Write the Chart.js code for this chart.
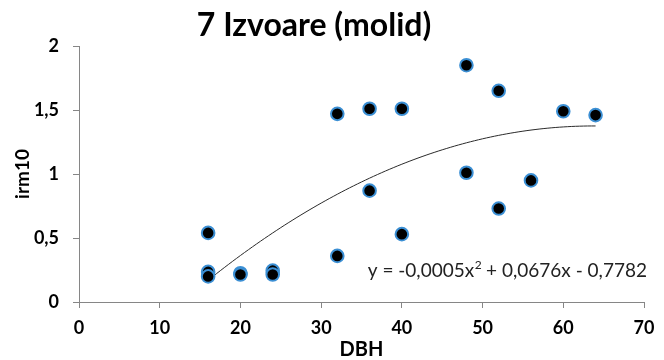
<!DOCTYPE html>
<html>
<head>
<meta charset="utf-8">
<script src="https://cdn.jsdelivr.net/npm/chart.js@4.4.1/dist/chart.umd.min.js"></script>
<style>
  html, body { margin: 0; padding: 0; background: #fff; }
  #wrap { width: 664px; height: 360px; }
</style>
</head>
<body>
<div id="wrap"><canvas id="c" width="664" height="360"></canvas></div>
<script>
// ---- data ----
const chartTitle = '7 Izvoare (molid)';
const xTitle = 'DBH';
const yTitle = 'irm10';
const dbh  = [16, 16, 16, 20, 20, 24, 24, 32, 32, 36, 36, 40, 40, 48, 48, 52, 52, 56, 60, 64];
const irm10 = [0.54, 0.235, 0.20, 0.225, 0.215, 0.245, 0.215, 0.36, 1.47, 1.51, 0.87, 1.51, 0.53, 1.85, 1.01, 1.65, 0.73, 0.95, 1.49, 1.46];
const xTicks = [0, 10, 20, 30, 40, 50, 60, 70];
const yTicks = [0, 0.5, 1, 1.5, 2];
const eqParts = ['y = -0,0005x', '2', ' + 0,0676x - 0,7782'];

// ---- least-squares quadratic trendline (as the spreadsheet computes it) ----
function quadFit(xs, ys) {
  let n = xs.length, s1 = 0, s2 = 0, s3 = 0, s4 = 0, t0 = 0, t1 = 0, t2 = 0;
  for (let i = 0; i < n; i++) {
    const x = xs[i], y = ys[i];
    s1 += x; s2 += x * x; s3 += x * x * x; s4 += x * x * x * x;
    t0 += y; t1 += x * y; t2 += x * x * y;
  }
  const M = [[n, s1, s2, t0], [s1, s2, s3, t1], [s2, s3, s4, t2]];
  for (let i = 0; i < 3; i++) {
    for (let k = i + 1; k < 3; k++) {
      const f = M[k][i] / M[i][i];
      for (let j = i; j < 4; j++) M[k][j] -= f * M[i][j];
    }
  }
  const r = [0, 0, 0];
  for (let i = 2; i >= 0; i--) {
    let s = M[i][3];
    for (let j = i + 1; j < 3; j++) s -= M[i][j] * r[j];
    r[i] = s / M[i][i];
  }
  return { c: r[0], b: r[1], a: r[2] };
}
const fit = quadFit(dbh, irm10);
const xMin = Math.min(...dbh), xMax = Math.max(...dbh);
const trend = [];
for (let x = xMin; x <= xMax + 1e-9; x += 0.5) {
  trend.push({ x: x, y: fit.a * x * x + fit.b * x + fit.c });
}

const points = dbh.map((x, i) => ({ x: x, y: irm10[i] }));

const FONT = 'Lato, "Open Sans", sans-serif';
const AXIS = '#868686';

const textPlugin = {
  id: 'texts',
  afterDraw(chart) {
    const ctx = chart.ctx;
    const area = chart.chartArea;
    ctx.save();
    // title
    ctx.fillStyle = '#000';
    ctx.font = 'bold 32px ' + FONT;
    ctx.textAlign = 'center';
    ctx.textBaseline = 'alphabetic';
    ctx.fillText(chartTitle, 314, 36);
    // equation
    ctx.fillStyle = '#222';
    ctx.textAlign = 'left';
    const base = chart.scales.y.getPixelForValue(0) - 25;
    ctx.font = '19px ' + FONT;
    const w1 = ctx.measureText(eqParts[0]).width;
    ctx.font = '12px ' + FONT;
    const w2 = ctx.measureText(eqParts[1]).width;
    ctx.font = '19px ' + FONT;
    const w3 = ctx.measureText(eqParts[2]).width;
    let x0 = area.right + 3 - (w1 + w2 + w3);
    ctx.fillText(eqParts[0], x0, base);
    ctx.font = '12px ' + FONT;
    ctx.fillText(eqParts[1], x0 + w1 + 0.5, base - 8);
    ctx.font = '19px ' + FONT;
    ctx.fillText(eqParts[2], x0 + w1 + w2, base);
    ctx.restore();
  }
};

new Chart(document.getElementById('c'), {
  type: 'scatter',
  data: {
    datasets: [
      {
        label: 'irm10',
        data: points,
        backgroundColor: '#000',
        borderColor: '#3b8fd4',
        borderWidth: 2,
        pointRadius: 6.3,
        pointHoverRadius: 6.3,
        order: 1
      },
      {
        label: 'trend',
        data: trend,
        showLine: true,
        borderColor: '#2a2a2a',
        borderWidth: 1,
        pointRadius: 0,
        fill: false,
        tension: 0,
        order: 2
      }
    ]
  },
  options: {
    responsive: false,
    animation: false,
    events: [],
    layout: { padding: { top: 46, right: 20, left: 0, bottom: 0 } },
    plugins: {
      legend: { display: false },
      tooltip: { enabled: false },
      title: { display: false }
    },
    scales: {
      x: {
        type: 'linear',
        min: 0, max: 70,
        afterBuildTicks(s) { s.ticks = xTicks.map(v => ({ value: v })); },
        afterFit(s) { s.height = 58; },
        ticks: { color: '#000', font: { family: FONT, size: 18, weight: 'bold' }, padding: 9 },
        grid: { drawOnChartArea: false, drawTicks: true, tickLength: 6, color: AXIS },
        border: { color: AXIS, width: 1 },
        title: { display: true, text: xTitle, color: '#000', font: { family: FONT, size: 20, weight: 'bold' }, padding: { top: 0, bottom: -2 } }
      },
      y: {
        type: 'linear',
        min: 0, max: 2,
        afterBuildTicks(s) { s.ticks = yTicks.map(v => ({ value: v })); },
        afterFit(s) { s.width = 79; },
        ticks: {
          color: '#000', font: { family: FONT, size: 18, weight: 'bold' }, padding: 14,
          callback: v => String(v).replace('.', ',')
        },
        grid: { drawOnChartArea: false, drawTicks: true, tickLength: 6, color: AXIS },
        border: { color: AXIS, width: 1 },
        title: { display: true, text: yTitle, color: '#000', font: { family: FONT, size: 19, weight: 'bold' }, padding: { top: 11, bottom: 0 } }
      }
    }
  },
  plugins: [textPlugin]
});
</script>
</body>
</html>
